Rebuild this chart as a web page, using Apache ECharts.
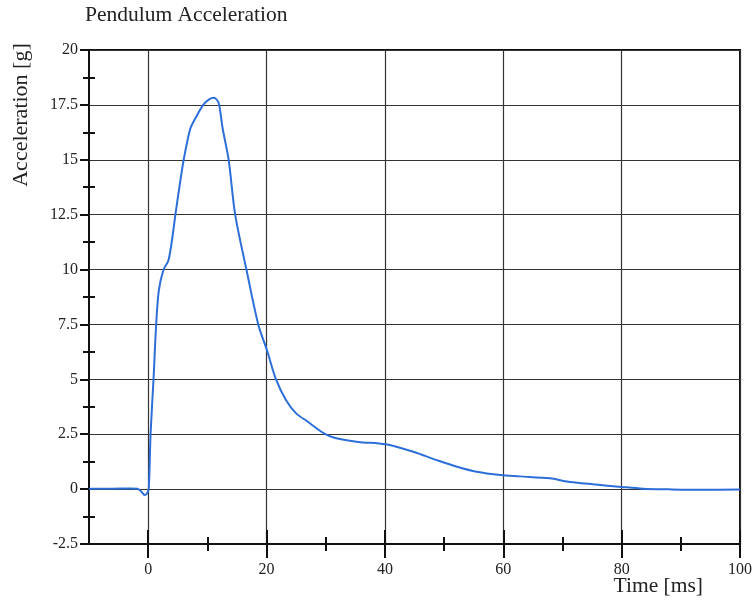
<!DOCTYPE html>
<html>
<head>
<meta charset="utf-8">
<script src="https://cdn.jsdelivr.net/npm/echarts@6/dist/echarts.min.js"></script>
<style>
html,body{margin:0;padding:0;background:#fff;}
#chart{width:755px;height:602px;}
</style>
</head>
<body>
<div id="chart"></div>
<script>
// ---- data ----
const titleText = 'Pendulum Acceleration';
const xName = 'Time [ms]';
const yName = 'Acceleration [g]';
const xMajorTicks = [0, 20, 40, 60, 80, 100];
const xMinorTicks = [10, 30, 50, 70, 90];
const yMinorTicks = [-1.25, 1.25, 3.75, 6.25, 8.75, 11.25, 13.75, 16.25, 18.75];
const timeMs = [-10, -6, -3, -1.8, -1.2, -0.6, -0.2, 0.1, 0.4, 0.9, 1.35, 1.8, 2.6, 3.4, 4.0, 4.6, 5.3, 6.0, 7.1, 8.0, 9.3, 10.3, 11.1, 11.7, 12.0, 12.6, 13.6, 14.7, 16.6, 18.6, 20.1, 21.6, 23.3, 25.0, 26.8, 29.7, 31.6, 35.5, 39.0, 41.0, 44.8, 48.8, 52.2, 55.5, 59.5, 62.8, 67.9, 70.7, 75.2, 80, 83.6, 88, 93.2, 100];
const accelG = [0.02, 0.02, 0.03, 0.02, -0.1, -0.27, -0.2, 0.05, 2.5, 5.0, 7.5, 9.05, 10.0, 10.4, 11.3, 12.5, 13.8, 15.0, 16.4, 16.9, 17.5, 17.75, 17.82, 17.7, 17.5, 16.4, 15.0, 12.5, 10.0, 7.5, 6.3, 5.0, 4.05, 3.45, 3.1, 2.54, 2.33, 2.15, 2.08, 2.0, 1.7, 1.32, 1.02, 0.79, 0.64, 0.58, 0.49, 0.35, 0.22, 0.1, 0.02, -0.01, -0.03, -0.02];

const seriesData = timeMs.map((t, i) => [t, accelG[i]]);
const FONT = '"Liberation Serif", "Times New Roman", serif';
const INK = '#111';

function overlayX(values, len, inside) {
  return {
    type: 'value', gridIndex: 0, position: 'bottom', min: -10, max: 100,
    axisLine: { show: false, onZero: false },
    axisTick: { show: true, inside: inside, length: len, customValues: values, lineStyle: { color: INK, width: 2 } },
    axisLabel: { show: false },
    splitLine: { show: false }
  };
}
function overlayY(values, len, inside) {
  return {
    type: 'value', gridIndex: 0, position: 'left', min: -2.5, max: 20,
    axisLine: { show: false, onZero: false },
    axisTick: { show: true, inside: inside, length: len, customValues: values, lineStyle: { color: INK, width: 2 } },
    axisLabel: { show: false },
    splitLine: { show: false }
  };
}

const chart = echarts.init(document.getElementById('chart'), null, { renderer: 'canvas' });
chart.setOption({
  backgroundColor: '#fff',
  animation: false,
  title: {
    text: titleText, left: 85, top: 4, padding: 0,
    textStyle: { fontFamily: FONT, fontSize: 21.5, fontWeight: 'normal', color: '#222' }
  },
  grid: { left: 89, right: 15, top: 50, bottom: 58, show: true, borderColor: INK, borderWidth: 2, backgroundColor: 'transparent' },
  xAxis: [
    {
      type: 'value', min: -10, max: 100, position: 'bottom',
      axisLine: { show: true, onZero: false, lineStyle: { color: INK, width: 2 } },
      axisTick: { show: true, inside: false, length: 14, customValues: xMajorTicks, lineStyle: { color: INK, width: 2 } },
      axisLabel: { show: true, customValues: xMajorTicks, margin: 18, fontFamily: FONT, fontSize: 16, color: '#222' },
      splitLine: { show: true, lineStyle: { color: '#333', width: 1.2 } }
    },
    overlayX(xMajorTicks, 14, true),
    overlayX(xMinorTicks, 7, true),
    overlayX(xMinorTicks, 7, false)
  ],
  yAxis: [
    {
      type: 'value', min: -2.5, max: 20, interval: 2.5, position: 'left',
      axisLine: { show: true, onZero: false, lineStyle: { color: INK, width: 2 } },
      axisTick: { show: true, inside: false, length: 9, lineStyle: { color: INK, width: 2 } },
      axisLabel: { show: true, margin: 11, fontFamily: FONT, fontSize: 16, color: '#222' },
      splitLine: { show: true, lineStyle: { color: '#333', width: 1.2 } }
    },
    overlayY(yMinorTicks, 6, true),
    overlayY(yMinorTicks, 6, false)
  ],
  graphic: [
    {
      type: 'text', x: 21, y: 115, rotation: Math.PI / 2,
      style: { text: yName, font: '22px "Liberation Serif", "Times New Roman", serif', fill: '#222', align: 'center', verticalAlign: 'middle', textAlign: 'center', textVerticalAlign: 'middle' }
    },
    {
      type: 'text', x: 703, y: 586,
      style: { text: xName, font: '21.5px "Liberation Serif", "Times New Roman", serif', fill: '#222', align: 'right', verticalAlign: 'middle', textAlign: 'right', textVerticalAlign: 'middle' }
    }
  ],
  series: [
    {
      type: 'line', xAxisIndex: 0, yAxisIndex: 0,
      data: seriesData, showSymbol: false, smooth: 0.3,
      lineStyle: { color: '#2d6fd9', width: 2 },
      z: 5
    }
  ]
});
</script>
</body>
</html>
